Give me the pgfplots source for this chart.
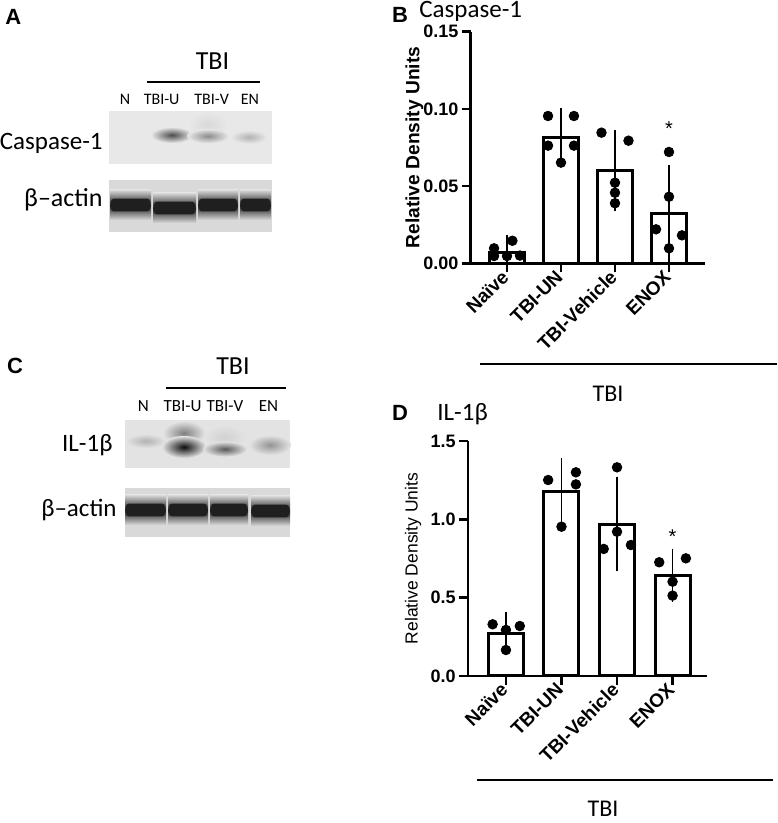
\documentclass[border=0pt]{standalone}
\usepackage{fontspec}
\setmainfont{Liberation Sans}
\newfontfamily\calfont{Carlito}
\usepackage{pgfplots}
\pgfplotsset{compat=1.18}

\definecolor{casbg}{HTML}{E8E8E8}
\definecolor{actbg}{HTML}{D9D9D9}
\definecolor{ilbg}{HTML}{E3E3E3}

\pgfplotsset{
  barfig/.style={
    scale only axis,
    axis x line*=bottom,
    axis y line*=left,
    axis line style={-, line width=1.3pt, black},
    tick align=outside,
    major tick length=4.5pt,
    tick style={line width=1.3pt, black},
    xtick={0,1,2,3},
    xticklabels={Naïve,TBI-UN,TBI-Vehicle,ENOX},
    xticklabel style={rotate=45, anchor=east, inner sep=1pt,
      font=\fontsize{9.5}{10}\selectfont\bfseries},
    yticklabel style={inner sep=1.5pt, font=\fontsize{9}{10}\selectfont\bfseries},
    /pgf/number format/assume math mode=true,
    ymin=0,
    clip=false,
    ylabel={Relative Density Units},
  },
  bars/.style={ybar, bar width=0.63, fill=white, draw=black, line width=1.5pt,
    error bars/.cd, y dir=both, y explicit,
    error bar style={line width=0.75pt, black},
    error mark options={mark size=4.5pt, line width=0.75pt, black}},
  dots/.style={only marks, mark=*, mark size=2.4pt, black},
}

% one actin band: left x, right x, centre y, background colour
\newcommand{\actband}[4]{%
  \shade[top color=#4, bottom color=#4, middle color=black!90] (#1,{#3-7.5pt}) rectangle (#2,{#3+7.5pt});
  \fill[black!88, rounded corners=1.5pt] ({#1+0.5pt},{#3-3.2pt}) rectangle ({#2-0.5pt},{#3+3.2pt});
}

\begin{document}
\begin{tikzpicture}[every node/.append style={inner sep=0pt}]
\useasboundingbox (0,0) rectangle (388.5pt,411.5pt);

% ---------------- panel A
\node[anchor=base west, font=\fontsize{11}{12}\selectfont\bfseries] at (2.5pt,399pt) {A};
\node[anchor=base, font=\calfont\fontsize{13}{14}\selectfont] at (106.25pt,376.5pt) {TBI};
\draw[line width=1pt] (73.5pt,370.5pt) -- (130pt,370.5pt);
\begin{scope}[every node/.style={anchor=base, font=\calfont\fontsize{8}{9}\selectfont}]
  \node at (62.5pt,359pt) {N};
  \node at (80.8pt,359pt) {TBI-U};
  \node at (105.8pt,359pt) {TBI-V};
  \node at (125pt,359pt) {EN};
\end{scope}
\fill[casbg] (54.5pt,329.5pt) rectangle (136pt,356pt);
\shade[inner color=black!15, outer color=casbg] (104pt,349pt) ellipse (10pt and 7pt);
\shade[inner color=black!70, outer color=casbg] (86pt,344pt) ellipse (10.5pt and 4pt);
\shade[inner color=black!45, outer color=casbg] (104pt,343.5pt) ellipse (10.5pt and 3.6pt);
\shade[inner color=black!30, outer color=casbg] (124.5pt,343pt) ellipse (9pt and 3.4pt);
\fill[actbg] (54.5pt,295.5pt) rectangle (136pt,321.5pt);
\actband{55pt}{75.5pt}{309pt}{actbg}
\actband{76.5pt}{98pt}{307.5pt}{actbg}
\actband{99pt}{119pt}{309pt}{actbg}
\actband{120pt}{135.5pt}{309pt}{actbg}
\node[anchor=base east, font=\calfont\fontsize{12.5}{14}\selectfont] at (51.5pt,336.5pt) {Caspase-1};
\node[anchor=base east, font=\calfont\fontsize{13}{14}\selectfont] at (51.5pt,308pt) {β–actin};

% ---------------- panel C
\node[anchor=base west, font=\fontsize{11}{12}\selectfont\bfseries] at (3.3pt,224.85pt) {C};
\node[anchor=base, font=\calfont\fontsize{13}{14}\selectfont] at (116.5pt,224pt) {TBI};
\draw[line width=1pt] (83pt,217.5pt) -- (143pt,217.5pt);
\begin{scope}[every node/.style={anchor=base, font=\calfont\fontsize{8.5}{9}\selectfont}]
  \node at (71.7pt,205.7pt) {N};
  \node at (91.25pt,205.7pt) {TBI-U};
  \node at (112.5pt,205.7pt) {TBI-V};
  \node at (134.2pt,205.7pt) {EN};
\end{scope}
\fill[ilbg] (62.5pt,177.5pt) rectangle (145pt,201.5pt);
\shade[inner color=black!30, outer color=ilbg] (73pt,191pt) ellipse (10pt and 3.5pt);
\shade[inner color=black!50, outer color=ilbg] (92pt,195pt) ellipse (10.5pt and 6pt);
\shade[inner color=black!95, outer color=ilbg] (92pt,188pt) ellipse (11pt and 5.5pt);
\shade[inner color=black!18, outer color=ilbg] (112.5pt,193pt) ellipse (10.5pt and 6pt);
\shade[inner color=black!65, outer color=ilbg] (112.5pt,187pt) ellipse (11pt and 3.8pt);
\shade[inner color=black!42, outer color=ilbg] (135pt,189pt) ellipse (10.5pt and 5pt);
\fill[actbg] (62.5pt,143pt) rectangle (145pt,167.5pt);
\actband{62.5pt}{83pt}{156.5pt}{actbg}
\actband{84pt}{104pt}{156.5pt}{actbg}
\actband{105pt}{124pt}{156.5pt}{actbg}
\actband{125.5pt}{145pt}{156pt}{actbg}
\node[anchor=base east, font=\calfont\fontsize{12.5}{14}\selectfont] at (56.5pt,185.5pt) {IL-1β};
\node[anchor=base east, font=\calfont\fontsize{12.5}{14}\selectfont] at (58.5pt,153pt) {β–actin};

% ---------------- panel B
\node[anchor=base west, font=\fontsize{11}{12}\selectfont\bfseries] at (195.8pt,400.2pt) {B};
\node[anchor=base west, font=\calfont\fontsize{12.5}{14}\selectfont] at (209.5pt,402.5pt) {Caspase-1};
\begin{axis}[barfig,
  at={(235.35pt,279.85pt)}, anchor=south west,
  width=117.15pt, height=115.8pt,
  xmin=-0.672, xmax=3.667, ymax=0.15,
  ytick={0,0.05,0.10,0.15},
  yticklabel style={/pgf/number format/.cd, fixed, fixed zerofill, precision=2},
  ylabel style={at={(axis description cs:-0.24,0.5)}, anchor=center,
    font=\fontsize{9.6}{10}\selectfont\bfseries},
]
\addplot[bars] coordinates {
  (0,0.0072) +- (0,0.0051)
  (1,0.0814) +- (0,0.0131)
  (2,0.0600) +- (0,0.0205)
  (3,0.0325) +- (0,0.0256)
};
\addplot[dots] coordinates {
  (-0.24,0.0097) (0.10,0.0146) (-0.24,0.0047) (0,0.0047) (0.24,0.0050)
  (0.76,0.0954) (1.24,0.0954) (0.76,0.0762) (1.24,0.0762) (1,0.0652)
  (1.75,0.0846) (2.25,0.0794) (2,0.0522) (2,0.0457) (2,0.0389)
  (3,0.0721) (3,0.0431) (2.76,0.0220) (3.24,0.0181) (3,0.0097)
};
\node[font=\fontsize{10}{10}\selectfont] at (axis cs:3,0.0870) {*};
\end{axis}
\draw[line width=1pt] (240pt,229.5pt) -- (388.5pt,229.5pt);
\node[anchor=base, font=\calfont\fontsize{12}{14}\selectfont] at (304pt,210.6pt) {TBI};

% ---------------- panel D
\node[anchor=base west, font=\fontsize{11}{12}\selectfont\bfseries] at (195.8pt,201.2pt) {D};
\node[anchor=base west, font=\calfont\fontsize{12.5}{14}\selectfont] at (218.5pt,201.2pt) {IL-1β};
\begin{axis}[barfig,
  at={(234pt,73.5pt)}, anchor=south west,
  width=119.5pt, height=117.5pt,
  xmin=-0.683, xmax=3.62, ymax=1.5,
  ytick={0,0.5,1,1.5},
  yticklabel style={/pgf/number format/.cd, fixed, fixed zerofill, precision=1},
  ylabel style={at={(axis description cs:-0.23,0.5)}, anchor=center,
    font=\fontsize{8.75}{10}\selectfont},
]
\addplot[bars] coordinates {
  (0,0.272) +- (0,0.078)
  (1,1.177) +- (0,0.155)
  (2,0.970) +- (0,0.245)
  (3,0.643) +- (0,0.112)
};
\addplot[dots] coordinates {
  (-0.24,0.330) (0.25,0.319) (0,0.294) (0,0.166)
  (0.76,1.251) (1.26,1.300) (1.26,1.223) (1,0.953)
  (2,1.332) (2,0.921) (1.76,0.811) (2.25,0.836)
  (2.76,0.726) (3.24,0.751) (3,0.602) (3,0.513)
};
\node[font=\fontsize{10}{10}\selectfont] at (axis cs:3,0.89) {*};
\end{axis}
\draw[line width=1pt] (238.5pt,21.5pt) -- (386.5pt,21.5pt);
\node[anchor=base, font=\calfont\fontsize{12}{14}\selectfont] at (301.5pt,3.15pt) {TBI};
\end{tikzpicture}
\end{document}
